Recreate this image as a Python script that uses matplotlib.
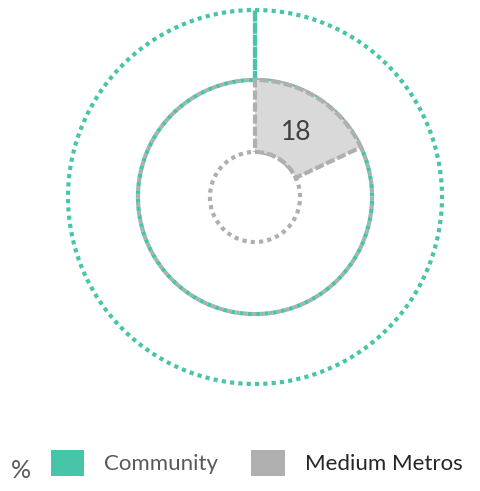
import numpy as np
import matplotlib
matplotlib.use('Agg')
import matplotlib.pyplot as plt
from matplotlib.patches import Patch

# data
series = ['Community', 'Medium Metros']
values = [0, 18]          # percent
colors = ['#47c5a8', '#afafaf']
fills = ['#47c5a8', '#d9d9d9']
label_colors = ['#595959', '#262626']
# ring limits (outer ring first)
ring_inner = [0.626, 0.241]
ring_outer = [1.0, 0.626]

plt.rcParams['font.family'] = ['Lato', 'DejaVu Sans']

fig = plt.figure(figsize=(4.8, 4.91), dpi=100)
ax = fig.add_axes([68 / 480, 107 / 491, 374 / 480, 374 / 491], projection='polar')
ax.set_theta_zero_location('N')
ax.set_theta_direction(-1)
ax.set_ylim(0, 1.0)
ax.set_axis_off()

lw = 3.0
t = np.linspace(0, 2 * np.pi, 600)
for i, name in enumerate(series):
    # dotted background circles of each ring
    ax.plot(t, np.full_like(t, ring_outer[i]), color=colors[i], lw=lw,
            ls=(0, (1, 1)), clip_on=False, zorder=3)
    if i == 1:
        ax.plot(t, np.full_like(t, ring_inner[i]), color=colors[i], lw=lw,
                ls=(0, (1, 1)), clip_on=False, zorder=3)
    w = values[i] / 100 * 2 * np.pi
    ax.bar(0, ring_outer[i] - ring_inner[i], width=w, bottom=ring_inner[i],
           align='edge', color=fills[i], edgecolor=colors[i], lw=lw,
           ls=(0, (2.2, 0.7)), zorder=2 + i * 2)
    if values[i] > 0:
        mid = w / 2
        r = (ring_inner[i] + ring_outer[i]) / 2 - 0.025
        ax.text(mid, r, str(values[i]), ha='center', va='center',
                fontsize=19, color='#404040', zorder=5)

# Community inner edge, teal dots between the grey ones
ax.plot(t, np.full_like(t, ring_inner[0]), color=colors[0], lw=lw,
        ls=(1, (1, 1)), clip_on=False, zorder=3.5)

fig.text(11 / 480, 1 - 471 / 491, '%', fontsize=18, color='#595959',
         ha='left', va='center')
handles = [Patch(facecolor=c, edgecolor='none') for c in colors]
leg = fig.legend(handles, series, loc='center left', bbox_to_anchor=(51 / 480, 1 - 463 / 491),
                 ncol=2, frameon=False, fontsize=16, handlelength=1.49,
                 handleheight=1.49, handletextpad=0.9, columnspacing=1.5,
                 borderaxespad=0, borderpad=0)
for txt, c in zip(leg.get_texts(), label_colors):
    txt.set_color(c)

fig.savefig('out.png', dpi=100)
